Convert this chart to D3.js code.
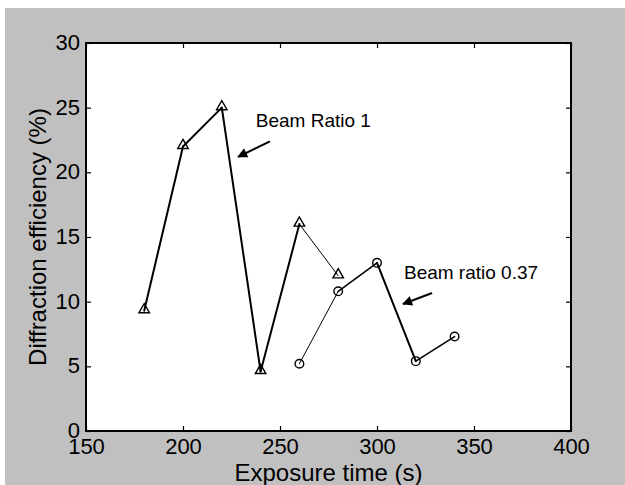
<!DOCTYPE html>
<html>
<head>
<meta charset="utf-8">
<script src="https://cdn.jsdelivr.net/npm/d3@7"></script>
<style>
  html, body { margin: 0; padding: 0; background: #ffffff; }
  svg { display: block; }
  text { font-family: "Liberation Sans", Arial, Helvetica, sans-serif; fill: #000; }
</style>
</head>
<body>
<svg id="chart" width="625" height="485"></svg>
<script>
// Exposure time (s) and diffraction efficiency (%) for the two beam ratios
const ratio1Time = [180, 200, 220, 240, 260, 280];
const ratio1Eff  = [9.3, 22.0, 25.0, 4.6, 16.0, 12.0];
const ratio037Time = [260, 280, 300, 320, 340];
const ratio037Eff  = [5.2, 10.8, 13.0, 5.4, 7.3];

const xTicks = [150, 200, 250, 300, 350, 400];
const yTicks = [0, 5, 10, 15, 20, 25, 30];

// Annotation anchors, in data units
const label1 = { text: "Beam Ratio 1", x: 237.5, y: 23.5 };
const arrow1 = { x1: 244.8, y1: 22.4, x2: 228.4, y2: 21.2 };
const label2 = { text: "Beam ratio 0.37", x: 313.9, y: 11.75 };
const arrow2 = { x1: 328.4, y1: 10.67, x2: 313.4, y2: 9.82 };

// Stroke width per segment (thin where the traces were drawn lighter)
const ratio1Widths = [2, 2, 2, 2, 1];
const ratio037Widths = [1, 1.6, 2, 1.6];

const svg = d3.select("#chart");
const W = 625, H = 485;
const box = { left: 86, top: 43, right: 571, bottom: 431 };

// figure background
svg.append("rect").attr("x", 5).attr("y", 8).attr("width", W - 5).attr("height", H - 8)
  .attr("fill", "#c0c0c0");

const x = d3.scaleLinear().domain([150, 400]).range([box.left, box.right]);
const y = d3.scaleLinear().domain([0, 30]).range([box.bottom, box.top]);

svg.append("rect")
  .attr("x", box.left).attr("y", box.top)
  .attr("width", box.right - box.left).attr("height", box.bottom - box.top)
  .attr("fill", "#ffffff");

const tickLen = 5;
function styleAxis(g) {
  g.select(".domain").remove();
  g.selectAll(".tick line").attr("stroke", "#000").attr("stroke-width", 1.2);
  g.selectAll(".tick text").style("font-size", "22px").attr("fill", "#000");
}

// bottom axis (ticks point inward)
svg.append("g").attr("transform", `translate(0,${box.bottom})`)
  .call(d3.axisBottom(x).tickValues(xTicks).tickSizeInner(-tickLen).tickSizeOuter(0).tickPadding(7))
  .call(styleAxis)
  .call(g => g.selectAll(".tick text").attr("dy", "0.71em"));

// left axis
svg.append("g").attr("transform", `translate(${box.left},0)`)
  .call(d3.axisLeft(y).tickValues(yTicks).tickSizeInner(-tickLen).tickSizeOuter(0).tickPadding(6))
  .call(styleAxis)
  .call(g => g.selectAll(".tick text").attr("dy", "0.3em"));

// top and right mirror ticks
svg.append("g").attr("transform", `translate(0,${box.top})`)
  .call(d3.axisTop(x).tickValues(xTicks).tickSizeInner(-tickLen).tickSizeOuter(0).tickFormat(""))
  .call(styleAxis);
svg.append("g").attr("transform", `translate(${box.right},0)`)
  .call(d3.axisRight(y).tickValues(yTicks).tickSizeInner(-tickLen).tickSizeOuter(0).tickFormat(""))
  .call(styleAxis);

// axes frame
svg.append("rect")
  .attr("x", box.left).attr("y", box.top)
  .attr("width", box.right - box.left).attr("height", box.bottom - box.top)
  .attr("fill", "none").attr("stroke", "#000").attr("stroke-width", 2);

// axis titles
svg.append("text")
  .attr("x", (box.left + box.right) / 2).attr("y", 481)
  .attr("text-anchor", "middle").style("font-size", "24px")
  .text("Exposure time (s)");
svg.append("text")
  .attr("transform", `translate(46,${(box.top + box.bottom) / 2}) rotate(-90)`)
  .attr("text-anchor", "middle").style("font-size", "24px")
  .text("Diffraction efficiency (%)");

// traces drawn segment by segment
function drawTrace(xs, ys, widths) {
  const pts = xs.map((t, i) => [x(t), y(ys[i])]);
  const segs = d3.pairs(pts);
  svg.append("g").selectAll("line").data(segs).join("line")
    .attr("x1", d => d[0][0]).attr("y1", d => d[0][1])
    .attr("x2", d => d[1][0]).attr("y2", d => d[1][1])
    .attr("stroke", "#000")
    .attr("stroke-width", (d, i) => widths[i])
    .attr("stroke-linecap", "round");
  return pts;
}

const p1 = drawTrace(ratio1Time, ratio1Eff, ratio1Widths);
const p2 = drawTrace(ratio037Time, ratio037Eff, ratio037Widths);

// triangle markers
svg.append("g").selectAll("path").data(p1).join("path")
  .attr("transform", d => `translate(${d[0]},${d[1] - 1})`)
  .attr("d", d3.symbol(d3.symbolTriangle, 48))
  .attr("fill", "none").attr("stroke", "#000").attr("stroke-width", 1.4);

// circle markers
svg.append("g").selectAll("circle").data(p2).join("circle")
  .attr("cx", d => d[0]).attr("cy", d => d[1]).attr("r", 4.3)
  .attr("fill", "none").attr("stroke", "#000").attr("stroke-width", 1.4);

// annotations with arrows
const defs = svg.append("defs");
defs.append("marker")
  .attr("id", "arrowhead").attr("viewBox", "0 0 10 10")
  .attr("refX", 9).attr("refY", 5)
  .attr("markerWidth", 6).attr("markerHeight", 5).attr("markerUnits", "strokeWidth")
  .attr("orient", "auto")
  .append("path").attr("d", "M0,0 L10,5 L0,10 z").attr("fill", "#000");

[[label1, arrow1], [label2, arrow2]].forEach(([lab, arr]) => {
  svg.append("text")
    .attr("x", x(lab.x)).attr("y", y(lab.y))
    .style("font-size", "19px")
    .text(lab.text);
  svg.append("line")
    .attr("x1", x(arr.x1)).attr("y1", y(arr.y1))
    .attr("x2", x(arr.x2)).attr("y2", y(arr.y2))
    .attr("stroke", "#000").attr("stroke-width", 2)
    .attr("marker-end", "url(#arrowhead)");
});
</script>
</body>
</html>
